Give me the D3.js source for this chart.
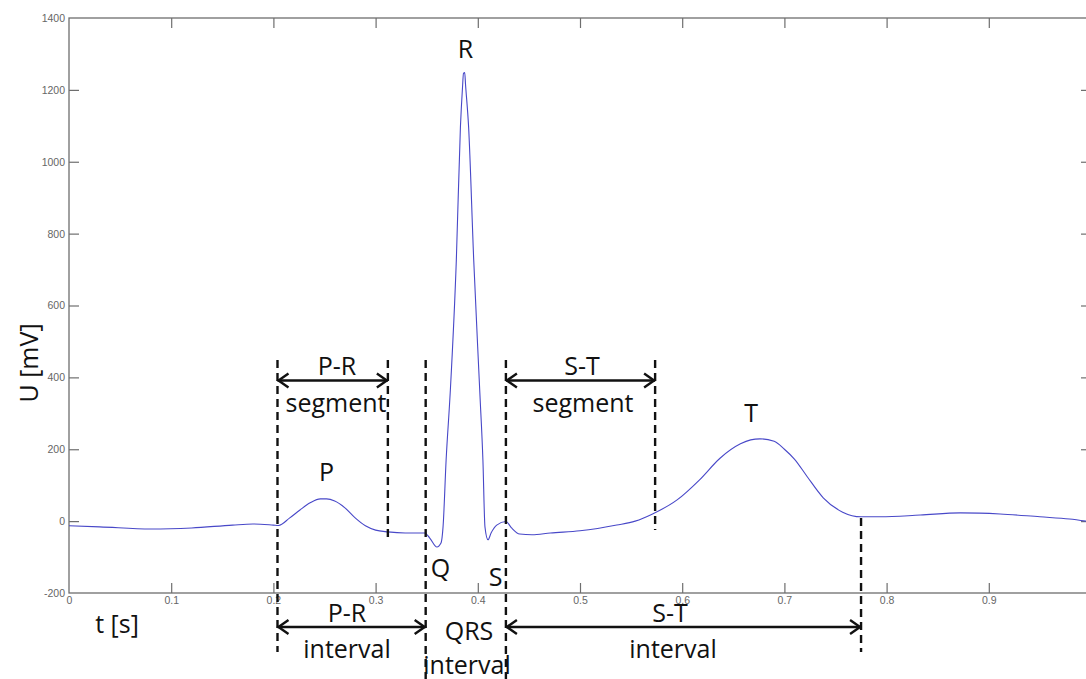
<!DOCTYPE html>
<html>
<head>
<meta charset="utf-8">
<script src="https://cdn.jsdelivr.net/npm/d3@7/dist/d3.min.js"></script>
<style>
  html, body { margin: 0; padding: 0; background: #fff; }
  svg { display: block; }
</style>
</head>
<body>
<svg id="chart" width="1086" height="679"></svg>
<script>
// ---- data ----
const timeS = [0, 0.03, 0.08, 0.12, 0.16, 0.18, 0.2, 0.205,
  0.216, 0.226, 0.236, 0.246, 0.252, 0.26, 0.27, 0.28, 0.29, 0.3, 0.312, 0.329, 0.348,
  0.353, 0.36, 0.364, 0.366, 0.369, 0.373, 0.379, 0.383, 0.385, 0.386, 0.3872, 0.388, 0.391,
  0.396, 0.402, 0.405, 0.407, 0.41, 0.413, 0.4185, 0.4276, 0.433, 0.441, 0.453, 0.471,
  0.5, 0.536, 0.554, 0.571, 0.595, 0.617, 0.637, 0.657, 0.667, 0.676, 0.69, 0.7, 0.71,
  0.722, 0.738, 0.757, 0.775, 0.794, 0.833, 0.872, 0.911, 0.95, 0.979, 0.995];
const voltageMV = [-13, -16, -22, -19, -11, -8, -11, -12,
  9, 31, 51, 62, 62, 56, 37, 9, -13, -25, -30, -33, -33,
  -47, -72, -61, -16, 170, 357, 727, 1097, 1205, 1246, 1248, 1215, 1097,
  727, 357, 170, -16, -52, -33, -11, -1, -19, -36, -38, -33,
  -27, -11, 0, 20, 59, 115, 175, 215, 226, 229, 222, 200, 172,
  125, 65, 25, 12, 12, 17, 23, 20, 12, 6, 0];
const xTicks = [0, 0.1, 0.2, 0.3, 0.4, 0.5, 0.6, 0.7, 0.8, 0.9];
const xTickLabels = ["0", "0.1", "0.2", "0.3", "0.4", "0.5", "0.6", "0.7", "0.8", "0.9"];
const yTicks = [-200, 0, 200, 400, 600, 800, 1000, 1200, 1400];
const yTickLabels = ["-200", "0", "200", "400", "600", "800", "1000", "1200", "1400"];
// boundaries (time, s) of the wave markers
const markerTimes = { prStart: 0.204, prSegEnd: 0.312, qrsStart: 0.349, qrsEnd: 0.4275, stSegEnd: 0.5735, stEnd: 0.775 };
const waveLabels = [
  { text: "P", t: 0.252, v: 112 },
  { text: "Q", t: 0.3635, v: -155 },
  { text: "R", t: 0.388, v: 1290 },
  { text: "S", t: 0.4175, v: -180 },
  { text: "T", t: 0.6675, v: 275 }
];

// ---- layout ----
const x = d3.scaleLinear().domain([0, 1]).range([69, 1091]);
const y = d3.scaleLinear().domain([-200, 1400]).range([593, 18]);
const svg = d3.select("#chart");
const axisColor = "#6e6e6e";
const fontAnn = "'Open Sans', 'Noto Sans', sans-serif";

// frame
svg.append("rect").attr("x", x(0)).attr("y", y(1400))
  .attr("width", x(1) - x(0)).attr("height", y(-200) - y(1400))
  .attr("fill", "none").attr("stroke", axisColor).attr("stroke-width", 1.3);

// axes (MATLAB style: inward ticks on all sides)
const tickLen = 10;
const xBottom = d3.axisBottom(x).tickValues(xTicks).tickSize(-tickLen).tickPadding(5)
  .tickFormat((d, i) => xTickLabels[i]);
const gxB = svg.append("g").attr("transform", `translate(0,${y(-200)})`).call(xBottom);
const xTop = d3.axisTop(x).tickValues(xTicks).tickSize(-tickLen).tickFormat("");
const gxT = svg.append("g").attr("transform", `translate(0,${y(1400)})`).call(xTop);
const yLeft = d3.axisLeft(y).tickValues(yTicks).tickSize(-tickLen).tickPadding(4)
  .tickFormat((d, i) => yTickLabels[i]);
const gyL = svg.append("g").attr("transform", `translate(${x(0)},0)`).call(yLeft);
const yRight = d3.axisRight(y).tickValues(yTicks).tickSize(-tickLen).tickFormat("");
const gyR = svg.append("g").attr("transform", `translate(${x(1)},0)`).call(yRight);
[gxB, gxT, gyL, gyR].forEach(g => {
  g.select(".domain").remove();
  g.selectAll(".tick line").attr("stroke", axisColor).attr("stroke-width", 1.2);
  g.selectAll(".tick text").attr("fill", "#666").attr("font-size", 10.5)
    .attr("font-family", "'Liberation Sans', Arial, sans-serif");
});
gxB.selectAll(".tick").filter(d => d === 0).select("line").remove();
gxT.selectAll(".tick").filter(d => d === 0).select("line").remove();
gyL.selectAll(".tick").filter(d => d === -200 || d === 1400).select("line").remove();
gyR.selectAll(".tick").filter(d => d === -200 || d === 1400).select("line").remove();
gxB.selectAll(".tick text").attr("dy", "0.55em");

// ECG curve
const pts = timeS.map((t, i) => [t, voltageMV[i]]);
const line = d3.line().x(d => x(d[0])).y(d => y(d[1])).curve(d3.curveMonotoneX);
svg.append("path").datum(pts).attr("d", line)
  .attr("fill", "none").attr("stroke", "#4848c8").attr("stroke-width", 1.1);

// ---- annotations ----
const ann = svg.append("g").attr("font-family", fontAnn).attr("fill", "#111");
function dashed(t, py0, py1) {
  ann.append("line").attr("x1", x(t)).attr("x2", x(t)).attr("y1", py0).attr("y2", py1)
    .attr("stroke", "#111").attr("stroke-width", 2.4).attr("stroke-dasharray", "8,5");
}
dashed(markerTimes.prStart, 360, 652);
dashed(markerTimes.prSegEnd, 360, 540);
dashed(markerTimes.qrsStart, 360, 679);
dashed(markerTimes.qrsEnd, 360, 679);
dashed(markerTimes.stSegEnd, 360, 530);
dashed(markerTimes.stEnd, 518, 652);

function arrow(t0, t1, yy) {
  const x0 = x(t0), x1 = x(t1);
  const g = ann.append("g").attr("stroke", "#111").attr("stroke-width", 2.4).attr("fill", "none");
  g.append("line").attr("x1", x0).attr("x2", x1).attr("y1", yy).attr("y2", yy);
  g.append("polyline").attr("points", `${x0 + 11},${yy - 7} ${x0 + 1},${yy} ${x0 + 11},${yy + 7}`);
  g.append("polyline").attr("points", `${x1 - 11},${yy - 7} ${x1 - 1},${yy} ${x1 - 11},${yy + 7}`);
}
const yTopArrow = 380.5, yBottomArrow = 627;
arrow(markerTimes.prStart, markerTimes.prSegEnd, yTopArrow);
arrow(markerTimes.qrsEnd, markerTimes.stSegEnd, yTopArrow);
arrow(markerTimes.prStart, markerTimes.qrsStart, yBottomArrow);
arrow(markerTimes.qrsEnd, markerTimes.stEnd, yBottomArrow);

function txt(s, px, py, size) {
  ann.append("text").attr("x", px).attr("y", py).attr("text-anchor", "middle")
    .attr("font-size", size).text(s);
}
const fs = 25;
txt("P-R", 337, 375, fs);
txt("segment", 336, 412, fs);
txt("S-T", 582, 375, fs);
txt("segment", 583, 412, fs);
txt("P-R", 347, 622, fs);
txt("interval", 347, 658, fs);
txt("QRS", 469, 640, fs);
txt("interval", 467, 674, fs);
txt("S-T", 670, 622, fs);
txt("interval", 673, 658, fs);
waveLabels.forEach(d => txt(d.text, x(d.t), y(d.v), fs));

// axis titles
ann.append("text").attr("x", 117).attr("y", 633).attr("text-anchor", "middle")
  .attr("font-size", fs).text("t [s]");
ann.append("text").attr("transform", "translate(38,363) rotate(-90)")
  .attr("text-anchor", "middle").attr("font-size", fs).text("U [mV]");
</script>
</body>
</html>
